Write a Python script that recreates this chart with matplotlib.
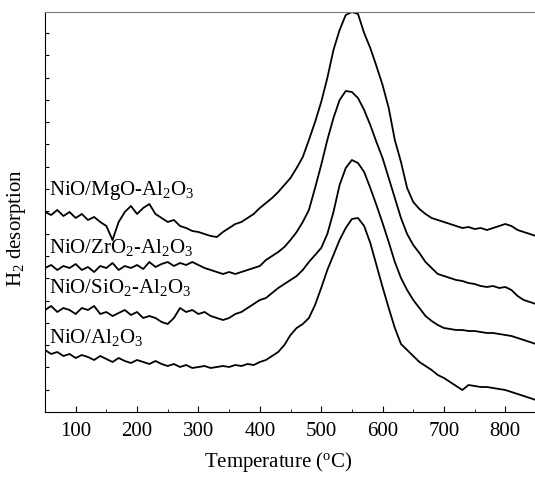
import numpy as np
import matplotlib
matplotlib.use("Agg")
import matplotlib.pyplot as plt

plt.rcParams["font.family"] = ["Liberation Serif", "DejaVu Serif"]
plt.rcParams["mathtext.fontset"] = "custom"
plt.rcParams["mathtext.rm"] = "Liberation Serif"
plt.rcParams["mathtext.it"] = "Liberation Serif:italic"

# Temperature grid (deg C) and H2 desorption signals (arbitrary units, offset traces)
temperature = np.arange(50, 851, 10)

mgo_al2o3 = [
    200, 197, 202, 196, 200, 194, 198, 192, 195, 190,
    186, 172, 190, 200, 206, 198, 204, 208, 198, 194,
    190, 192, 186, 184, 181, 180, 178, 176, 175, 180,
    184, 188, 190, 194, 198, 204, 209, 214, 220, 227,
    234, 244, 255, 272, 290, 310, 334, 362, 382, 397,
    400, 398, 379, 364, 346, 327, 304, 272, 250, 224,
    210, 203, 198, 194, 192, 190, 188, 186, 184, 185,
    183, 184, 182, 184, 186, 188, 186, 182, 180, 178, 176,
]
zro2_al2o3 = [
    144, 147, 142, 146, 144, 148, 142, 145, 140, 146,
    144, 149, 142, 146, 144, 147, 143, 150, 145, 148,
    150, 146, 149, 147, 150, 147, 144, 142, 140, 138,
    140, 138, 140, 142, 144, 146, 152, 156, 160, 165,
    172, 180, 190, 202, 224, 247, 272, 294, 312, 321,
    320, 314, 302, 287, 270, 254, 234, 214, 194, 178,
    167, 159, 150, 144, 138, 136, 134, 132, 131, 129,
    128, 126, 125, 126, 124, 125, 122, 116, 112, 110, 108,
]
sio2_al2o3 = [
    102, 106, 100, 104, 102, 98, 104, 102, 106, 98,
    100, 96, 99, 102, 97, 100, 94, 96, 94, 90,
    88, 94, 104, 100, 102, 98, 100, 96, 94, 92,
    94, 98, 100, 104, 108, 112, 114, 119, 124, 128,
    132, 136, 142, 150, 157, 164, 178, 200, 227, 244,
    252, 249, 240, 224, 207, 189, 170, 150, 134, 122,
    112, 104, 96, 91, 87, 84, 83, 82, 82, 81,
    81, 80, 79, 79, 78, 77, 76, 74, 72, 70, 68,
]
al2o3 = [
    62, 58, 60, 56, 58, 54, 57, 55, 52, 56,
    53, 50, 54, 51, 49, 52, 50, 48, 51, 48,
    46, 48, 45, 47, 44, 45, 46, 44, 45, 46,
    45, 47, 46, 48, 47, 50, 52, 56, 60, 67,
    77, 84, 88, 94, 107, 124, 142, 157, 172, 184,
    193, 194, 186, 169, 147, 125, 104, 84, 68, 62,
    56, 50, 46, 42, 37, 34, 30, 26, 22, 27,
    26, 25, 25, 24, 23, 22, 20, 18, 16, 14, 12,
]

series = [mgo_al2o3, zro2_al2o3, sio2_al2o3, al2o3]
labels = [
    "NiO/MgO-Al$_2$O$_3$",
    "NiO/ZrO$_2$-Al$_2$O$_3$",
    "NiO/SiO$_2$-Al$_2$O$_3$",
    "NiO/Al$_2$O$_3$",
]
label_y = [217, 159, 119, 69]

fig = plt.figure(figsize=(5.35, 4.79), dpi=100)
ax = fig.add_axes([45 / 535, 67 / 479, 491 / 535, 400 / 479])

for values in series:
    ax.plot(temperature, values, color="black", linewidth=1.3)

for text, y in zip(labels, label_y):
    ax.text(57, y, text, fontsize=15, va="baseline", ha="left")

ax.set_xlim(50, 850)
ax.set_ylim(0, 400)
ax.set_xticks(np.arange(100, 801, 100))
ax.set_xticks(np.arange(50, 851, 50), minor=True)
ax.set_yticks(np.arange(22.3, 400, 22.3))
ax.set_yticklabels([])
ax.tick_params(axis="x", which="both", direction="in", top=False, labelsize=15, pad=7)
ax.tick_params(axis="x", which="major", length=4)
ax.tick_params(axis="x", which="minor", length=2)
ax.tick_params(axis="y", direction="in", length=3, right=False)

ax.spines["top"].set_color("#777777")
ax.spines["right"].set_visible(False)

ax.set_xlabel("Temperature ($^{\\mathrm{o}}$C)", fontsize=15)
ax.xaxis.set_label_coords(0.475, -0.095)
ax.set_ylabel("H$_2$ desorption", fontsize=15)
ax.yaxis.set_label_coords(-0.035, 0.46)

fig.savefig("out.png", dpi=100)
